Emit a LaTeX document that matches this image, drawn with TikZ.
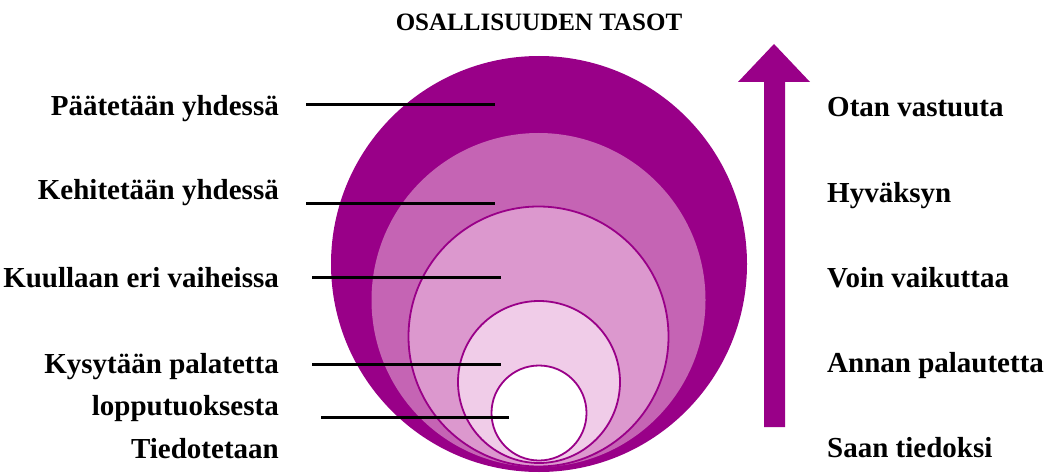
\documentclass[tikz,border=0pt]{standalone}
\usepackage{fontspec}
\setmainfont{Liberation Serif}
\usetikzlibrary{positioning}
\definecolor{tasoA}{RGB}{153,0,136}
\definecolor{tasoB}{RGB}{197,100,180}
\definecolor{tasoC}{RGB}{220,152,206}
\definecolor{tasoD}{RGB}{240,204,232}

\begin{document}
\begin{tikzpicture}[x=1pt,y=-1pt,
  lbl/.style={font=\bfseries\fontsize{29}{31}\selectfont,inner sep=0pt},
  leftlbl/.style={lbl,anchor=base east},
  rightlbl/.style={lbl,anchor=base west},
  lead/.style={black,line width=3pt},
  ring/.style={draw=tasoA,line width=1.8pt}]
\useasboundingbox (0,0) rectangle (1046,473);
% title
\node[font=\bfseries\fontsize{25}{27}\selectfont,inner sep=0pt,anchor=base] (title) at (539,31) {OSALLISUUDEN TASOT};
% nested levels
\fill[tasoA] (539,264) circle[radius=208pt];
\fill[tasoB] (538.5,300) circle[radius=167pt];
\filldraw[ring,fill=tasoC] (538.5,336.5) circle[radius=130pt];
\filldraw[ring,fill=tasoD] (539,382) circle[radius=81pt];
\filldraw[ring,fill=white] (539,413) circle[radius=47.5pt];
% left labels
\node[leftlbl] (paat) at (279,116) {Päätetään yhdessä};
\node[leftlbl] (kehi) at (279,200) {Kehitetään yhdessä};
\node[leftlbl] (kuul) at (279,287) {Kuullaan eri vaiheissa};
\node[leftlbl] (kysy) at (279,373) {Kysytään palatetta};
\node[leftlbl] (lopp) at (279,415) {lopputuoksesta};
\node[leftlbl] (tied) at (279,458) {Tiedotetaan};
% leader lines
\foreach \n/\xa/\xb/\yy in {1/306/495/105,2/306/495/203,3/312/501/277,4/312/501/364,5/321/509/417}{
  \coordinate (s\n) at (\xa,\yy);
  \coordinate (e\n) at (\xb,\yy);
  \draw[lead] (s\n) -- (e\n);
}
% arrow
\fill[tasoA] (764,427) -- (764,82) -- (738,82) -- (774,44) -- (810,82) -- (785,82) -- (785,427) -- cycle;
% right labels
\node[rightlbl] (otan) at (827,117) {Otan vastuuta};
\node[rightlbl] (hyva) at (827,202) {Hyväksyn};
\node[rightlbl] (voin) at (827,287) {Voin vaikuttaa};
\node[rightlbl] (anna) at (827,372) {Annan palautetta};
\node[rightlbl] (saan) at (827,457) {Saan tiedoksi};
\end{tikzpicture}
\end{document}
